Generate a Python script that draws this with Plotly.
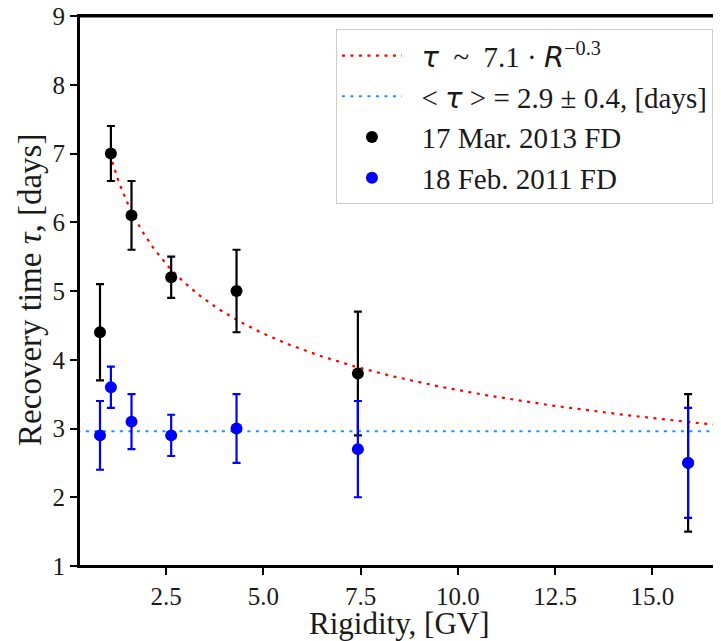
import numpy as np
import plotly.graph_objects as go

# Data
rigidity = [0.80, 1.08, 1.61, 2.63, 4.31, 7.43, 15.92]
tau_2013 = [4.4, 7.0, 6.1, 5.2, 5.0, 3.8, 2.5]
err_2013 = [0.7, 0.4, 0.5, 0.3, 0.6, 0.9, 1.0]
tau_2011 = [2.9, 3.6, 3.1, 2.9, 3.0, 2.7, 2.5]
err_2011 = [0.5, 0.3, 0.4, 0.3, 0.5, 0.7, 0.8]

# Fit parameters
fit_amp = 7.1
fit_index = -0.3
fit_r_start = 1.05
fit_r_end = 17.0
mean_tau = 2.96

x_ticks = [2.5, 5.0, 7.5, 10.0, 12.5, 15.0]
y_ticks = [1, 2, 3, 4, 5, 6, 7, 8, 9]

fit_r = np.linspace(fit_r_start, fit_r_end, 300)
fit_tau = fit_amp * fit_r ** fit_index

SERIF = "Liberation Serif, Times New Roman, serif"
SANS = "DejaVu Sans"
TXT = "#1a1a1a"
DOTS = "3px,5.5px"
SP = "&nbsp;&nbsp;"

fig = go.Figure()

fig.add_trace(go.Scatter(
    x=fit_r, y=fit_tau, mode="lines",
    line=dict(color="red", width=2.2, dash=DOTS),
    name=(f'{SP}<span style="font-family:{SANS}"><i>τ</i></span>  ~  '
          f'{fit_amp} · <span style="font-family:{SANS}"><i>R</i></span>'
          f'<sup>−0.3</sup>'),
    legendrank=1, legendgroup="a",
))
fig.add_trace(go.Scatter(
    x=[0, 17.5], y=[mean_tau, mean_tau], mode="lines",
    line=dict(color="#1E90FF", width=2.2, dash=DOTS),
    name=f'{SP}< <span style="font-family:{SANS}"><i>τ</i></span> > = 2.9 ± 0.4, [days]',
    legendrank=2, legendgroup="b",
))
fig.add_trace(go.Scatter(
    x=rigidity, y=tau_2013, mode="markers",
    marker=dict(color="black", size=12, line=dict(width=0)),
    error_y=dict(type="data", array=err_2013, color="black", thickness=2.2, width=4),
    name=f"{SP}17 Mar. 2013 FD",
    legendrank=3, legendgroup="c",
))
fig.add_trace(go.Scatter(
    x=rigidity, y=tau_2011, mode="markers",
    marker=dict(color="blue", size=12, line=dict(width=0)),
    error_y=dict(type="data", array=err_2011, color="blue", thickness=2.2, width=4),
    name=f"{SP}18 Feb. 2011 FD",
    legendrank=4, legendgroup="d",
))

axis_common = dict(
    showline=True, linecolor="black", linewidth=2, mirror=True,
    ticks="outside", ticklen=7, tickwidth=1.5, tickcolor="black",
    showgrid=False, zeroline=False, automargin=False,
    ticklabeloverflow="allow",
    tickfont=dict(family=SERIF, size=25, color=TXT),
)

fig.update_xaxes(
    range=[0.26, 16.74], tickvals=x_ticks,
    ticktext=[f"{v:.1f}" for v in x_ticks],
    **axis_common,
)
fig.update_yaxes(
    range=[1, 9], tickvals=y_ticks,
    **axis_common,
)

# frame (matplotlib-style spines)
fig.add_shape(type="rect", xref="paper", yref="paper", x0=0, y0=0, x1=1, y1=0.999,
              line=dict(color="black", width=2), layer="above")

fig.add_annotation(
    text="Rigidity, [GV]", xref="paper", yref="paper", x=0.5, y=-0.104,
    xanchor="center", yanchor="middle", showarrow=False,
    font=dict(family=SERIF, size=31, color=TXT),
)
fig.add_annotation(
    text="Recovery time <i>τ</i>, [days]", xref="paper", yref="paper", x=-0.0764, y=0.502,
    xanchor="center", yanchor="middle", showarrow=False, textangle=-90,
    font=dict(family=SERIF, size=33, color=TXT),
)

fig.update_layout(
    width=721, height=641,
    margin=dict(l=71, r=9, t=8, b=83),
    plot_bgcolor="white", paper_bgcolor="white",
    font=dict(family=SERIF, color=TXT),
    showlegend=True,
    legend=dict(
        x=0.989, y=0.976, xanchor="right", yanchor="top",
        bgcolor="white", bordercolor="#cccccc", borderwidth=1,
        font=dict(family=SERIF, size=29, color=TXT),
        itemwidth=60, tracegroupgap=0,
    ),
)

fig.write_html("out.html")
